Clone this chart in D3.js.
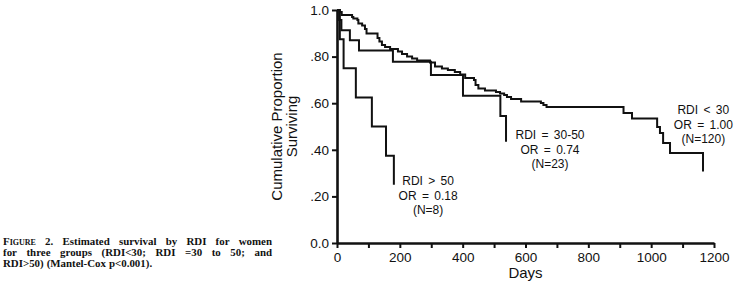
<!DOCTYPE html>
<html>
<head>
<meta charset="utf-8">
<script src="https://cdn.jsdelivr.net/npm/d3@7"></script>
<style>
  body { margin: 0; background: #fff; }
  svg { display: block; }
</style>
</head>
<body>
<svg id="chart" width="735" height="285"></svg>
<script>
// Kaplan-Meier steps (days, cumulative proportion surviving)
const lowDays = [0, 9, 15, 48, 52, 65, 68, 80, 89, 94, 129, 135, 143, 153, 169, 194, 207, 223, 239, 255,
  296, 312, 334, 353, 375, 392, 408, 436, 441, 450, 471, 506, 519, 532, 541, 554, 586, 649, 657, 667,
  912, 939, 1019, 1028, 1038, 1060, 1165];
const lowSurv = [1, .991, .979, .970, .964, .957, .942, .933, .918, .899, .880, .865, .850, .841, .833, .822, .811, .800, .792, .783,
  .775, .757, .749, .742, .734, .723, .708, .700, .678, .663, .654, .648, .642, .635, .627, .618, .607, .601, .592, .584,
  .558, .534, .498, .472, .429, .386, .307];

const midDays = [0, 7, 14, 41, 70, 178, 299, 401, 520, 538];
const midSurv = [1, .957, .913, .870, .826, .778, .721, .632, .545, .435];

const highDays = [0, 9, 21, 60, 111, 156, 181];
const highSurv = [1, .875, .75, .625, .5, .375, .25];

const xTicks = [0, 100, 200, 300, 400, 500, 600, 700, 800, 900, 1000, 1100, 1200];
const yTicks = [0, .2, .4, .6, .8, 1];
const yTickLabels = ["0.0", ".20", ".40", ".60", ".80", "1.0"];

const lowLabel = ["RDI < 30", "OR = 1.00", "(N=120)"];
const midLabel = ["RDI = 30-50", "OR = 0.74", "(N=23)"];
const highLabel = ["RDI > 50", "OR = 0.18", "(N=8)"];

const yTitle = ["Cumulative Proportion", "Surviving"];
const xTitle = "Days";

const captionLines = [
  "Figure 2. Estimated survival by RDI for women",
  "for three groups (RDI<30; RDI =30 to 50; and",
  "RDI>50) (Mantel-Cox p<0.001)."
];

const ink = "#111";
const svg = d3.select("#chart");

const x = d3.scaleLinear().domain([0, 1200]).range([337, 714]);
const y = d3.scaleLinear().domain([0, 1]).range([243, 10]);

// axes
const xAxis = svg.append("g")
  .attr("transform", `translate(0,${y(0)})`)
  .call(d3.axisBottom(x).tickValues(xTicks).tickSize(5).tickSizeOuter(0)
    .tickFormat(d => d % 200 ? "" : d));

const yAxis = svg.append("g")
  .attr("transform", `translate(${x(0)},0)`)
  .call(d3.axisLeft(y).tickValues(yTicks).tickSize(5).tickSizeOuter(0)
    .tickFormat((d, i) => yTickLabels[i]));

[xAxis, yAxis].forEach(g => {
  g.select(".domain").attr("stroke", ink).attr("stroke-width", 2.6);
  g.selectAll(".tick line").attr("stroke", ink).attr("stroke-width", 2);
  g.selectAll(".tick text")
    .attr("fill", ink)
    .style("font", "13.5px 'Liberation Sans', Arial, sans-serif");
});
xAxis.selectAll(".tick text").attr("y", 9);
yAxis.selectAll(".tick text").attr("x", -8);

// axis titles
svg.append("g")
  .attr("transform", `translate(277,${y(.5)}) rotate(-90)`)
  .selectAll("text")
  .data(yTitle)
  .join("text")
  .attr("x", 0)
  .attr("y", (d, i) => i * 15)
  .attr("dy", "0.35em")
  .attr("text-anchor", "middle")
  .attr("fill", ink)
  .style("font", "15px 'Liberation Sans', Arial, sans-serif")
  .text(d => d);

svg.append("text")
  .attr("x", x(600))
  .attr("y", 278)
  .attr("text-anchor", "middle")
  .attr("fill", ink)
  .style("font", "15px 'Liberation Sans', Arial, sans-serif")
  .text(xTitle);

// survival curves
const line = d3.line()
  .x(d => x(d[0]))
  .y(d => y(d[1]))
  .curve(d3.curveStepAfter);

const series = [
  [lowDays, lowSurv],
  [midDays, midSurv],
  [highDays, highSurv]
];

svg.append("g")
  .selectAll("path")
  .data(series)
  .join("path")
  .attr("fill", "none")
  .attr("stroke", ink)
  .attr("stroke-width", 2)
  .attr("d", ([days, surv]) => line(days.map((d, i) => [d, surv[i]])));

// group labels
const labels = [
  { text: lowLabel, day: 1166, s: .571 },
  { text: midLabel, day: 678, s: .4635 },
  { text: highLabel, day: 290, s: .266 }
];

labels.forEach(l => {
  svg.append("g")
    .selectAll("text")
    .data(l.text)
    .join("text")
    .attr("x", x(l.day))
    .attr("y", (d, i) => y(l.s) + i * 14.5)
    .attr("dy", "0.35em")
    .attr("text-anchor", "middle")
    .attr("fill", ink)
    .style("font", "12px 'Liberation Sans', Arial, sans-serif")
    .style("word-spacing", "2px")
    .text(d => d);
});

// caption, justified like the printed page
const capLeft = 3, capWidth = 269;
captionLines.forEach((ln, li) => {
  const words = ln.split(" ");
  const t = svg.append("text")
    .attr("y", 245 + li * 11)
    .attr("fill", ink)
    .style("font", "bold 10.9px 'Liberation Serif', 'Times New Roman', serif");
  const spans = words.map(w => t.append("tspan")
    .style("font-variant", w === "Figure" ? "small-caps" : null)
    .text(w));
  const widths = spans.map(s => s.node().getComputedTextLength());
  const total = d3.sum(widths);
  const last = li === captionLines.length - 1;
  const gap = last ? 3 : (capWidth - total) / (words.length - 1);
  let cx = capLeft;
  spans.forEach((s, i) => {
    s.attr("x", cx);
    cx += widths[i] + gap;
  });
});
</script>
</body>
</html>
